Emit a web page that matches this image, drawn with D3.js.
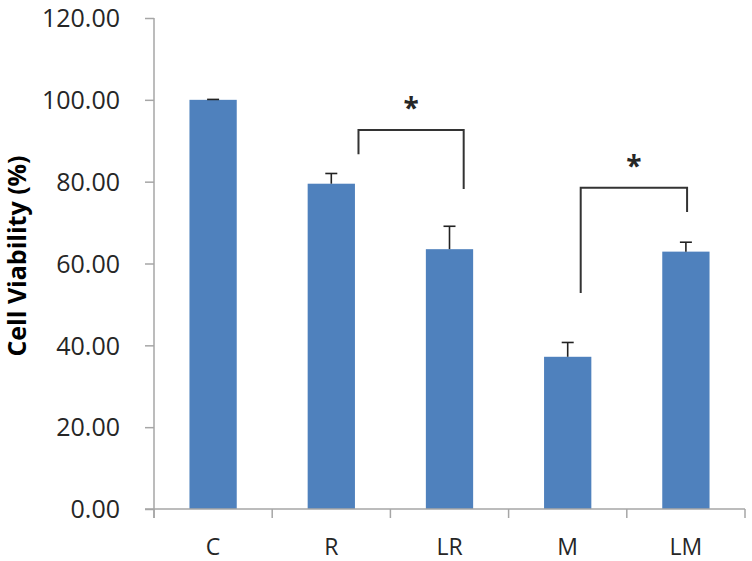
<!DOCTYPE html>
<html><head><meta charset="utf-8">
<script src="https://cdn.jsdelivr.net/npm/d3@7"></script>
<style>body{margin:0;background:#fff}svg{display:block}</style>
</head><body><svg id="c" width="752" height="561"></svg>
<script>
const categories = ["C","R","LR","M","LM"];
const values = [100.0, 79.5, 63.5, 37.2, 62.9];
const errors = [0.1, 2.5, 5.6, 3.5, 2.3];
const yTicks = [0,20,40,60,80,100,120];
// significance brackets: from/to category, offset within band (fraction), heights in data units
const brackets = [
  {from:"R", to:"LR", fromOff:0.23, toOff:0.12, top:92.6, fromEnd:86.7, toEnd:78.2, star:97.5},
  {from:"M", to:"LM", fromOff:0.11, toOff:0.01, top:78.5, fromEnd:52.8, toEnd:72.6, star:83.2}
];

const svg = d3.select("#c");
const m = {l:154, r:745, t:18, b:509};
const x = d3.scaleBand().domain(categories).range([m.l, m.r]).paddingInner(0.6).paddingOuter(0.3);
const xb = d3.scaleBand().domain(categories).range([m.l, m.r]);
const y = d3.scaleLinear().domain([0,120]).range([m.b, m.t]);
const axisCol = "#a6a6a6";
const font = "'Open Sans', sans-serif";

// bars
svg.append("g").selectAll("rect").data(categories).join("rect")
  .attr("x", d => x(d)).attr("width", x.bandwidth())
  .attr("y", (d,i) => y(values[i])).attr("height", (d,i) => y(0) - y(values[i]))
  .attr("fill", "#4f81bd");

// error bars
const eg = svg.append("g").attr("stroke", "#222").attr("stroke-width", 1.6);
categories.forEach((c,i) => {
  const cx = x(c) + x.bandwidth()/2;
  eg.append("line").attr("x1", cx).attr("x2", cx).attr("y1", y(values[i])).attr("y2", y(values[i]+errors[i]));
  eg.append("line").attr("x1", cx-6).attr("x2", cx+6).attr("y1", y(values[i]+errors[i])).attr("y2", y(values[i]+errors[i]));
});

// y axis
const ya = d3.axisLeft(y).tickValues(yTicks).tickSize(9).tickPadding(25).tickFormat(d3.format(".2f"));
const yg = svg.append("g").attr("transform", `translate(${m.l},0)`).call(ya);
yg.select(".domain").remove();
yg.append("line").attr("x1",0).attr("x2",0).attr("y1",m.t).attr("y2",m.b+9).attr("stroke",axisCol).attr("stroke-width",1.5);
yg.selectAll(".tick line").attr("stroke", axisCol).attr("stroke-width",1.5);
yg.selectAll(".tick text").attr("fill","#262626").style("font-family",font).style("font-size","25px").attr("dy","0.35em");

// x axis
const xg = svg.append("g").attr("transform", `translate(0,${m.b})`);
xg.append("line").attr("x1", m.l-9).attr("x2", m.r).attr("y1",0).attr("y2",0).attr("stroke",axisCol).attr("stroke-width",1.5);
const bounds = categories.map(c => xb(c)).concat([m.r]);
xg.selectAll("line.t").data(bounds).join("line").attr("class","t")
  .attr("x1", d=>d).attr("x2", d=>d).attr("y1",0).attr("y2",9).attr("stroke",axisCol).attr("stroke-width",1.5);
xg.selectAll("text").data(categories).join("text")
  .attr("x", d => xb(d) + xb.bandwidth()/2).attr("y", 46)
  .attr("text-anchor","middle").attr("fill","#262626")
  .style("font-family",font).style("font-size","23px").text(d=>d);

// y title
svg.append("text").attr("transform","translate(26,256) rotate(-90)")
  .attr("text-anchor","middle").attr("fill","#000")
  .style("font-family",font).style("font-size","25px").style("font-weight","bold")
  .text("Cell Viability (%)");

// brackets
const bg = svg.append("g");
brackets.forEach(b => {
  const x1 = x(b.from) + x.bandwidth()/2 + b.fromOff*xb.bandwidth();
  const x2 = x(b.to) + x.bandwidth()/2 + b.toOff*xb.bandwidth();
  bg.append("path").attr("d", `M${x1},${y(b.fromEnd)}V${y(b.top)}H${x2}V${y(b.toEnd)}`)
    .attr("fill","none").attr("stroke","#333").attr("stroke-width",2);
  bg.append("text").attr("x",(x1+x2)/2).attr("y", y(b.star)).attr("text-anchor","middle")
    .attr("dominant-baseline","middle").style("font-weight","bold")
    .attr("fill","#262626").style("font-family",font).style("font-size","28px").text("*");
});
</script></body></html>
